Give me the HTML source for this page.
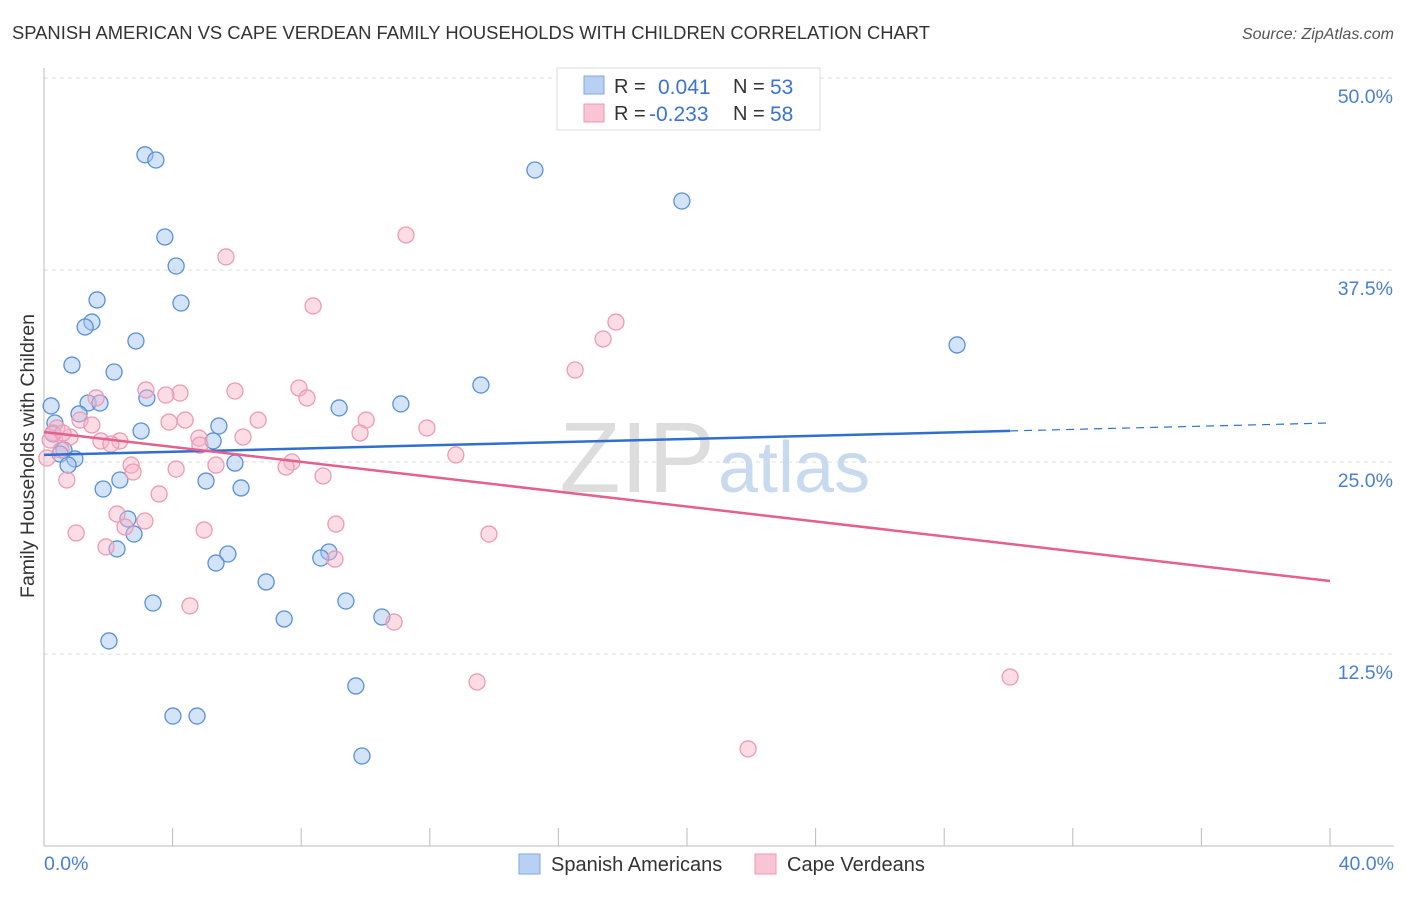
<!DOCTYPE html>
<html><head><meta charset="utf-8"><style>
body{margin:0;background:#fff;font-family:"Liberation Sans",sans-serif;}
svg text{font-family:"Liberation Sans",sans-serif;}
</style></head><body>
<svg id="c" width="1406" height="892">
<text x="12" y="39" font-size="18.4" fill="#333">SPANISH AMERICAN VS CAPE VERDEAN FAMILY HOUSEHOLDS WITH CHILDREN CORRELATION CHART</text>
<text x="1394" y="39" font-size="16" fill="#555" font-style="italic" text-anchor="end">Source: ZipAtlas.com</text>
<text x="34" y="456" font-size="19.5" fill="#333" text-anchor="middle" transform="rotate(-90 34 456)">Family Households with Children</text>
<text x="715" y="492" font-size="100" fill="#ddd" text-anchor="end" font-family="Liberation Serif">ZIP</text>
<text x="718" y="492" font-size="72" fill="#c8daf0">atlas</text>
<g id="grid"></g><g id="pts"></g><g id="lines"></g>
<g>
<rect x="557" y="68" width="263" height="62" fill="#fff" stroke="#ddd"/>
<rect x="584" y="76" width="20" height="18" fill="#b8d1f3" stroke="#7fa6e0"/>
<rect x="584" y="104" width="20" height="18" fill="#f9c4d4" stroke="#ec9ab4"/>
<text x="614" y="93" font-size="20" fill="#333">R = </text><text x="658" y="94" font-size="21" fill="#3a74d0">0.041</text>
<text x="733" y="93" font-size="20" fill="#333">N = </text><text x="770" y="94" font-size="21" fill="#3a74d0">53</text>
<text x="614" y="120" font-size="20" fill="#333">R = </text><text x="649" y="121" font-size="21" fill="#3a74d0">-0.233</text>
<text x="733" y="120" font-size="20" fill="#333">N = </text><text x="770" y="121" font-size="21" fill="#3a74d0">58</text>
</g>
<g>
<rect x="519" y="854" width="21" height="20" fill="#b8d1f3" stroke="#7fa6e0"/>
<text x="551" y="871" font-size="20" fill="#333">Spanish Americans</text>
<rect x="755" y="854" width="21" height="20" fill="#f9c4d4" stroke="#ec9ab4"/>
<text x="787" y="871" font-size="20" fill="#333">Cape Verdeans</text>
</g>
</svg>
<script>
const yTicks=[12.5,25,37.5,50];
const yTickLabels=["12.5%","25.0%","37.5%","50.0%"];
const xTickVals=[0,4,8,12,16,20,24,28,32,36,40];
const blueX=[3.14,3.48,15.27,19.84,3.76,4.11,1.65,4.26,1.49,1.28,2.86,28.40,0.87,2.18,13.59,3.20,1.37,1.74,0.22,11.10,9.18,1.09,0.34,5.44,3.02,0.28,5.26,0.62,0.96,0.50,0.75,5.94,5.04,2.36,6.13,1.84,2.61,2.80,2.27,5.72,5.35,8.86,8.61,6.91,3.39,9.39,7.47,10.51,2.02,9.70,4.01,4.76,9.89];
const blueY=[45.0,44.66,44.01,41.99,39.65,37.76,35.55,35.35,34.11,33.79,32.88,32.62,31.31,30.86,30.01,29.17,28.84,28.84,28.65,28.78,28.52,28.13,27.54,27.34,27.02,26.82,26.37,25.78,25.20,25.52,24.80,24.93,23.76,23.83,23.31,23.24,21.29,20.31,19.34,19.01,18.42,19.14,18.75,17.19,15.82,15.95,14.78,14.91,13.35,10.42,8.46,8.46,5.86];
const pinkX=[11.26,5.66,8.37,17.79,17.39,16.52,1.62,3.17,4.23,5.94,7.93,8.18,3.79,6.66,4.39,3.89,10.02,11.91,1.12,1.49,0.40,0.81,0.28,2.36,1.77,2.08,4.82,6.19,9.83,0.53,0.09,12.81,2.71,2.77,4.11,5.35,7.71,7.53,8.68,0.71,3.58,2.27,3.14,2.52,9.08,4.98,1.00,13.84,1.93,9.05,4.54,10.89,13.47,30.05,21.90,0.19,0.59,4.85];
const pinkY=[39.78,38.35,35.16,34.11,33.01,30.99,29.17,29.69,29.49,29.62,29.82,29.17,29.36,27.73,27.73,27.60,27.73,27.21,27.73,27.41,27.21,26.63,26.89,26.37,26.37,26.17,26.56,26.63,26.89,25.78,25.26,25.46,24.80,24.35,24.54,24.80,25.0,24.67,24.09,23.83,22.92,21.61,21.16,20.77,20.96,20.57,20.38,20.31,19.47,18.68,15.63,14.58,10.68,11.00,6.32,26.43,26.89,26.1];
const blueTrend=[25.46,0.052];
const pinkTrend=[26.95,-0.2425];
const blueSolidEnd=30.05;
const X=v=>44+v/40*1286, Y=v=>846-v/50*768;
const NS="http://www.w3.org/2000/svg";
function mk(t,a,p){const e=document.createElementNS(NS,t);for(const k in a)e.setAttribute(k,a[k]);p.appendChild(e);return e;}
const grid=document.getElementById('grid');
yTicks.forEach((v,i)=>{
 const l=mk('line',{x1:44,x2:1394,y1:Y(v),y2:Y(v),stroke:'#ddd','stroke-dasharray':'4,4'},grid);
 
 
 const t=mk('text',{x:1393,y:Y(v)+25,'font-size':19.5,fill:'#4a7fd4','text-anchor':'end'},grid);t.textContent=yTickLabels[i];
 
 
});
const ax=mk('line',{x1:44,x2:44,y1:68,y2:846,stroke:'#bbb'},grid);


const bx=mk('line',{x1:44,x2:1394,y1:846,y2:846,stroke:'#bbb'},grid);


xTickVals.forEach(v=>{const t=mk('line',{x1:X(v),x2:X(v),y1:828,y2:846,stroke:'#bbb'},grid);
 
 });
[[0,'0.0%','start',44],[40,'40.0%','end',1394]].forEach(a=>{const t=mk('text',{x:a[3],y:870,'font-size':19.5,fill:'#4a7fd4','text-anchor':a[2]},grid);t.textContent=a[1];
 
 });
const pts=document.getElementById('pts');
blueX.forEach((x,i)=>{const c=mk('circle',{cx:X(x),cy:Y(blueY[i]),r:8,fill:'rgba(160,196,240,0.45)',stroke:'#5a8fdb','stroke-width':1.3},pts);
 
 });
pinkX.forEach((x,i)=>{const c=mk('circle',{cx:X(x),cy:Y(pinkY[i]),r:8,fill:'rgba(248,180,200,0.45)',stroke:'#ee9ab5','stroke-width':1.3},pts);
 
 });
const lines=document.getElementById('lines');
const f=(t,x)=>t[0]+t[1]*x;
const b1=mk('line',{x1:X(0),y1:Y(f(blueTrend,0)),x2:X(blueSolidEnd),y2:Y(f(blueTrend,blueSolidEnd)),stroke:'#2f6fd0','stroke-width':2.5},lines);


const b2=mk('line',{x1:X(blueSolidEnd),y1:Y(f(blueTrend,blueSolidEnd)),x2:X(40),y2:Y(f(blueTrend,40)),stroke:'#2f6fd0','stroke-width':1.2,'stroke-dasharray':'8,6'},lines);


const p1=mk('line',{x1:X(0),y1:Y(f(pinkTrend,0)),x2:X(40),y2:Y(f(pinkTrend,40)),stroke:'#e4608e','stroke-width':2.5},lines);


</script>
</body></html>
